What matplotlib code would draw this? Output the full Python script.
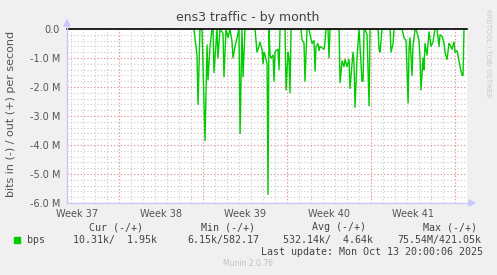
import matplotlib
matplotlib.use("Agg")
import matplotlib.pyplot as plt
from matplotlib.lines import Line2D
from matplotlib.patches import Polygon, Rectangle

# days since left edge of graph (Sep 10 20:00) and "in" traffic in Mbit/s
days = [10.58, 10.83, 10.92, 11.08, 11.25, 11.50, 11.67, 11.75, 11.92, 12.08,
        12.17, 12.25, 12.50, 12.58, 12.75, 12.92, 13.00, 13.08, 13.25, 13.42,
        13.58, 13.75, 13.83, 14.00, 14.17, 14.33, 14.42, 14.58, 14.67, 14.83,
        15.00, 15.67, 15.83, 16.00, 16.08, 16.25, 16.33, 16.42, 16.50, 16.67,
        16.75, 16.83, 16.92, 17.00, 17.17, 17.25, 17.33, 17.42, 17.58, 17.67,
        17.75, 18.17, 18.25, 18.42, 18.50, 18.58, 18.67, 19.50, 19.58, 19.75,
        19.83, 20.00, 20.17, 20.25, 20.42, 20.58, 20.67, 20.75, 20.92, 21.00,
        21.08, 21.25, 21.42, 21.50, 21.58, 21.75, 21.83, 21.92, 22.67, 22.75,
        22.92, 23.08, 23.17, 23.33, 23.50, 23.58, 23.83, 23.92, 24.00, 24.17,
        24.33, 24.42, 24.58, 24.67, 24.75, 24.83, 25.00, 25.17, 25.25, 25.92,
        26.00, 26.08, 26.25, 26.92, 27.00, 27.17, 27.25, 27.92, 28.08, 28.25,
        28.42, 28.50, 28.58, 28.75, 28.83, 29.00, 29.08, 29.33, 29.42, 29.50,
        29.67, 29.75, 29.83, 30.00, 30.17, 30.25, 30.33, 30.50, 30.58, 30.67,
        30.83, 31.00, 31.08, 31.25, 31.42, 31.50, 31.67, 31.83, 31.92, 32.08,
        32.25, 32.33, 32.50, 32.67, 32.75, 32.92, 33.00, 33.08]
bps_in = [0, -0.9, -2.6, 0, 0, -3.85, -0.55, -1.75, -0.6, 0,
          0, -1.5, 0, -1.0, 0, -0.1, -0.15, -1.65, 0, -0.3,
          0, -0.45, -1.0, -0.6, -0.3, 0, -3.6, 0, -1.65, 0,
          0, 0, -0.8, -0.6, -0.45, -0.7, -1.2, -0.8, -0.9, -1.2,
          -5.7, 0, -0.9, -1.0, -0.9, -1.8, -0.8, -0.75, -0.7, -1.4,
          0, 0, -2.1, -0.8, -1.0, -2.2, 0, 0, -0.35, -0.5,
          -1.8, 0, 0, -0.2, -0.5, -0.4, -1.45, -0.6, -0.5, -0.75,
          -0.6, -0.65, -0.7, -0.45, 0, 0, -1.0, 0, 0, -1.85,
          -1.1, -1.3, -1.05, -1.3, -1.05, -2.05, -0.8, -1.2, -2.7, -1.0,
          0, -0.6, -1.8, -1.8, 0, 0, -0.2, -2.65, 0, 0,
          -0.7, -0.8, 0, 0, -0.8, -0.5, 0, 0, -0.3, -0.4,
          -2.55, -0.7, -0.3, -1.6, -0.6, 0, 0, -0.4, -1.0, -2.1,
          -1.0, -1.4, -0.5, -0.9, -0.1, -0.35, -0.6, -0.45, -0.2, 0,
          0, -0.6, -0.2, -0.25, -0.5, -0.8, -1.05, -0.5, -0.55, -0.7,
          -0.45, -0.8, -0.75, -1.1, -1.3, -1.6, -1.6, 0]

week_labels = ["Week 37", "Week 38", "Week 39", "Week 40", "Week 41"]
week_starts = [4.35, 11.35, 18.35, 25.35, 32.35]
y_ticks = [0, -1, -2, -3, -4, -5, -6]
y_labels = ["0.0", "-1.0 M", "-2.0 M", "-3.0 M", "-4.0 M", "-5.0 M", "-6.0 M"]

legend_heads = ["Cur (-/+)", "Min (-/+)", "Avg (-/+)", "Max (-/+)"]
legend_vals = ["10.31k/  1.95k", "6.15k/582.17", "532.14k/  4.64k", "75.54M/421.05k"]

W, H = 497, 275
fig = plt.figure(figsize=(W / 100, H / 100), dpi=100, facecolor="#f0f0f0")


def fx(px):
    return px / W


def fy(py):
    return 1 - py / H


ax = fig.add_axes([fx(67), fy(203), 400 / W, 174 / H])
ax.set_facecolor("white")
ax.set_xlim(0, 33.33)
ax.set_ylim(-6, 0)
for s in ax.spines.values():
    s.set_visible(False)

# grid
dot = (0, (1, 2))
for d in range(34):
    x = week_starts[0] - 4 + d
    if 0 < x < 33.33:
        ax.axvline(x, color="#c8c8c8", lw=0.8, ls=dot, zorder=0)
for k in range(31):
    ax.axhline(-k * 0.2, color="#c8c8c8", lw=0.8, ls=dot, zorder=0)
for x in week_starts:
    ax.axvline(x, color="#ee9090", lw=0.8, ls=dot, zorder=1)
for y in y_ticks[1:-1]:
    ax.axhline(y, color="#ee9090", lw=0.8, ls=dot, zorder=1)

ax.plot(days, bps_in, color="#00cc00", lw=1, zorder=3)
ax.axhline(0, color="black", lw=1.2, zorder=4, clip_on=False)

ax.set_yticks(y_ticks)
ax.set_yticklabels(y_labels)
ax.set_xticks([w - 3.5 for w in week_starts])
ax.set_xticklabels(week_labels)
ax.tick_params(length=0, labelsize=7, colors="#555555", pad=5)
ax.tick_params(axis="x", pad=4)

# axis lines with arrows
ax_col = "#c8c8ff"
fig.add_artist(Line2D([fx(67), fx(67)], [fy(203), fy(24)], color=ax_col, lw=1))
fig.add_artist(Line2D([fx(67), fx(470)], [fy(203), fy(203)], color=ax_col, lw=1))
fig.add_artist(Polygon([[fx(64), fy(26)], [fx(70), fy(26)], [fx(67), fy(20)]],
                       closed=True, color=ax_col, transform=fig.transFigure))
fig.add_artist(Polygon([[fx(469), fy(200)], [fx(469), fy(206)], [fx(475), fy(203)]],
                       closed=True, color=ax_col, transform=fig.transFigure))

fig.text(fx(248), fy(17), "ens3 traffic - by month", ha="center", va="center",
         fontsize=9, color="#444444")
fig.text(fx(11), fy(114), "bits in (-) / out (+) per second", rotation=90,
         ha="center", va="center", fontsize=8, color="#555555")
fig.text(fx(488), fy(53), "RRDTOOL / TOBI OETIKER", rotation=270,
         ha="center", va="center", fontsize=5, color="#c8c8c8")

mono = dict(family="DejaVu Sans Mono", fontsize=7.2, color="#444444", va="center")
for x, t in zip([89, 201, 312, 423], legend_heads):
    fig.text(fx(x), fy(227), t, **mono)
fig.add_artist(Rectangle((fx(14), fy(243)), 6 / W, 6 / H, color="#00cc00",
                         transform=fig.transFigure))
fig.text(fx(27), fy(240), "bps", **mono)
for x, t in zip([73, 187, 283, 397], legend_vals):
    fig.text(fx(x), fy(240), t, **mono)
fig.text(fx(261), fy(252), "Last update: Mon Oct 13 20:00:06 2025", **mono)
fig.text(fx(248), fy(264), "Munin 2.0.76", ha="center", va="center",
         fontsize=5.5, color="#c0c0c0")

fig.savefig("out.png", dpi=100, facecolor=fig.get_facecolor())
